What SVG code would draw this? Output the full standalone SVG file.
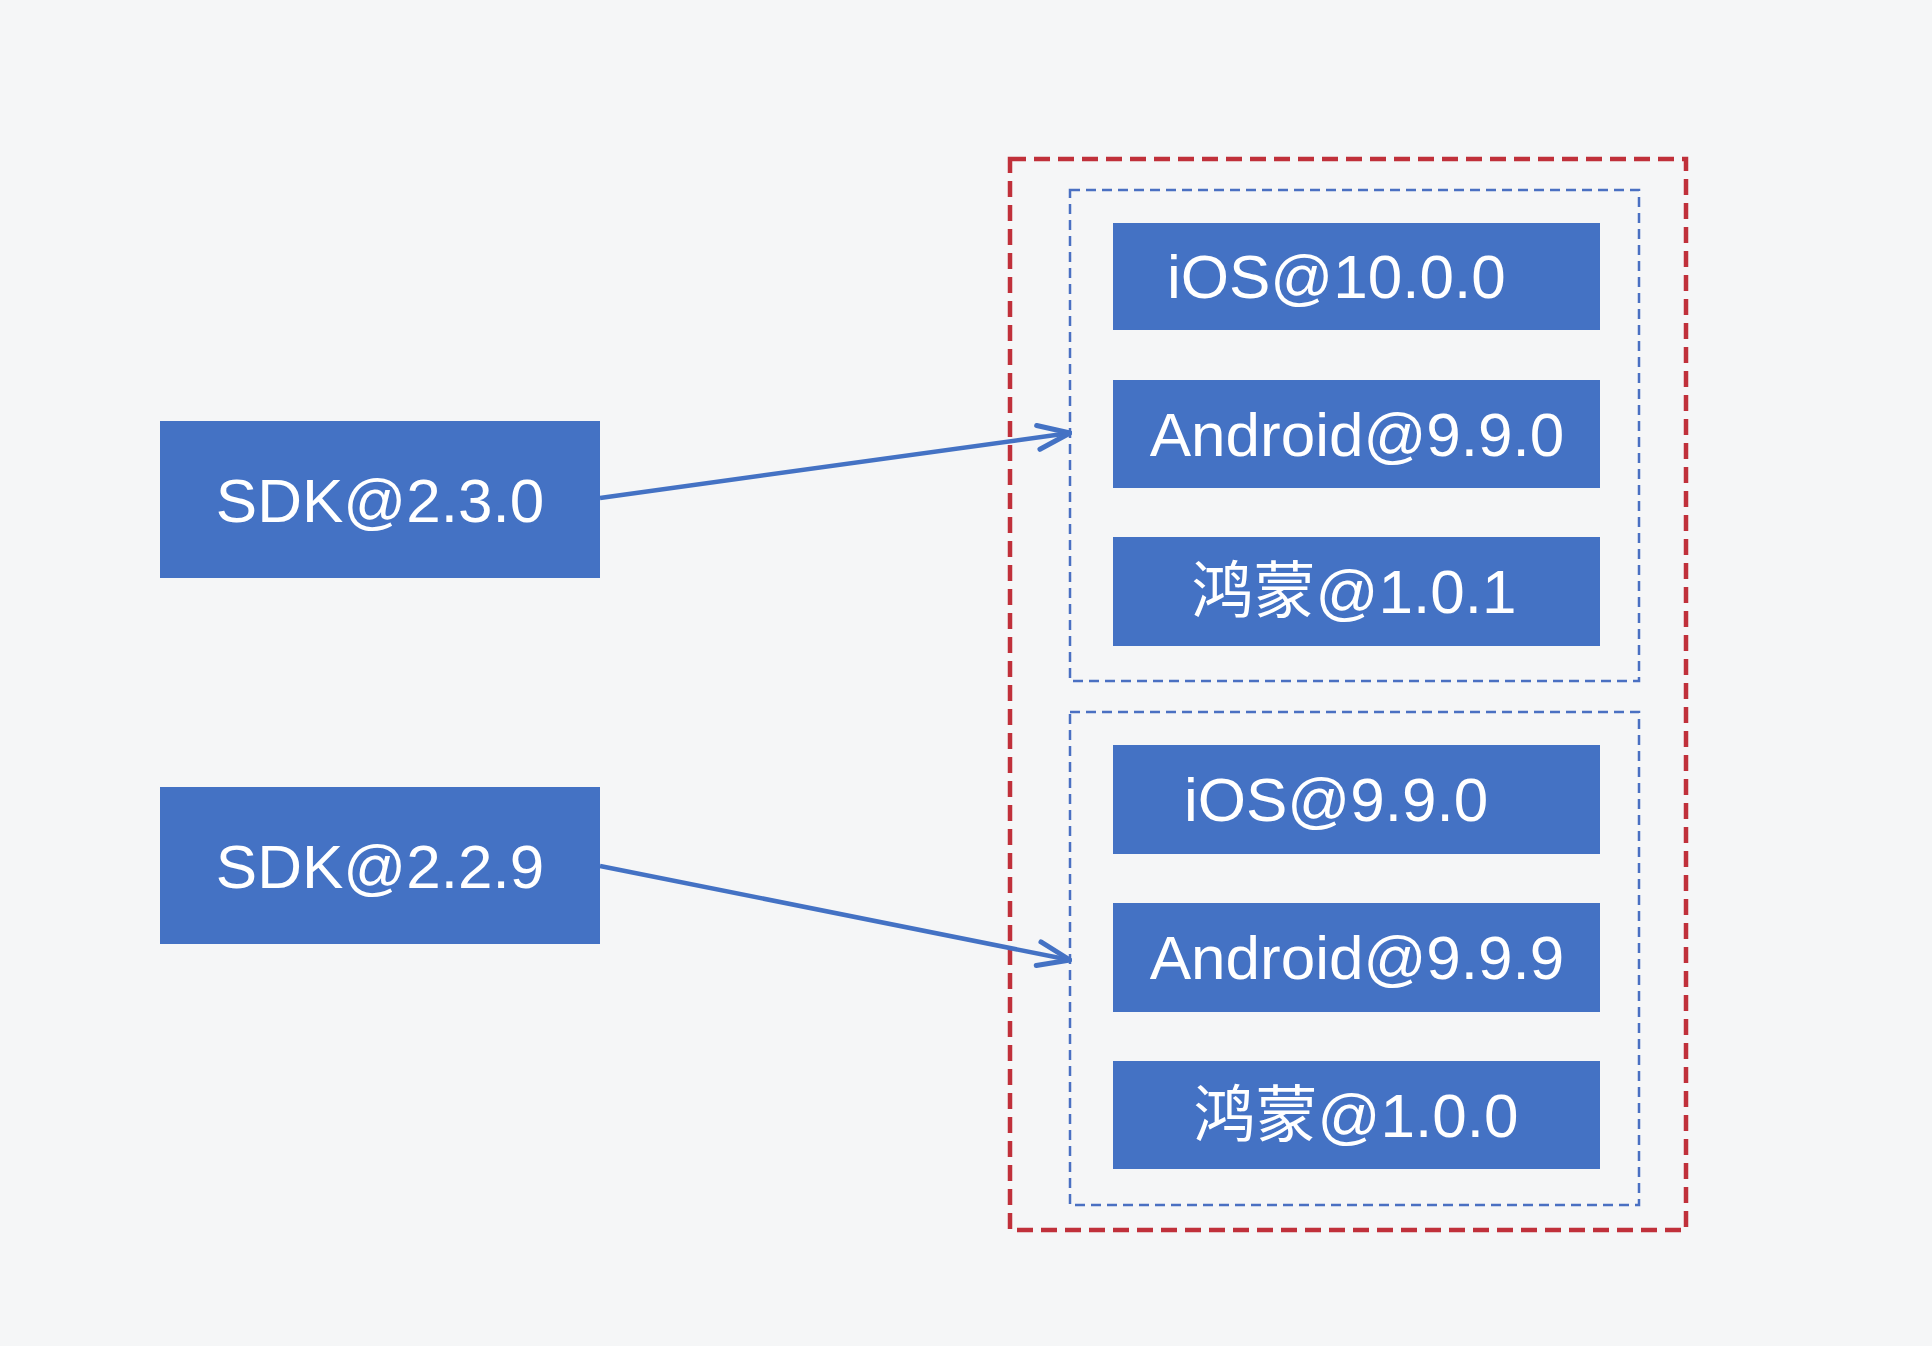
<svg xmlns="http://www.w3.org/2000/svg" width="1932" height="1346" viewBox="0 0 1932 1346">
<style>
.bg{fill:#F5F6F7}
.box{fill:#4472C4}
.lbl{fill:#FFFFFF;font-family:"Liberation Sans","Noto Sans CJK SC",sans-serif;font-size:62px}
.red{fill:none;stroke:#C0303A;stroke-width:4.5;stroke-dasharray:16 8}
.grp{fill:none;stroke:#4A70C2;stroke-width:2.5;stroke-dasharray:10 6}
.edge{fill:none;stroke:#4472C4;stroke-width:4.5}
</style>
<defs>
<marker id="arr" viewBox="0 0 40 40" refX="38" refY="20" markerWidth="40" markerHeight="40" markerUnits="userSpaceOnUse" orient="auto">
<path d="M6,8 L38,20 L6,32" fill="none" stroke="#4472C4" stroke-width="5" stroke-linecap="round" stroke-linejoin="round"/>
</marker>
</defs>
<rect class="bg" x="0" y="0" width="1932" height="1346"/>
<g id="outer-frame"><rect class="red" x="1010" y="159" width="676" height="1071"/></g>
<g id="group-1"><rect class="grp" x="1070" y="190" width="569" height="491"/></g>
<g id="group-2"><rect class="grp" x="1070" y="712" width="569" height="493"/></g>
<g id="sdk230"><rect class="box" x="160" y="421" width="440" height="157"/><text class="lbl" x="380" y="522" text-anchor="middle">SDK@2.3.0</text></g>
<g id="sdk229"><rect class="box" x="160" y="787" width="440" height="157"/><text class="lbl" x="380" y="888" text-anchor="middle">SDK@2.2.9</text></g>
<g id="ios1000"><rect class="box" x="1113" y="223" width="487" height="107"/><text class="lbl" x="1167" y="298">iOS@10.0.0</text></g>
<g id="android990"><rect class="box" x="1113" y="380" width="487" height="108"/><text class="lbl" x="1357" y="456" text-anchor="middle">Android@9.9.0</text></g>
<g id="hm101"><rect class="box" x="1113" y="537" width="487" height="109"/><text class="lbl" x="1354" y="613" text-anchor="middle">鸿蒙@1.0.1</text></g>
<g id="ios990"><rect class="box" x="1113" y="745" width="487" height="109"/><text class="lbl" x="1184" y="821">iOS@9.9.0</text></g>
<g id="android999"><rect class="box" x="1113" y="903" width="487" height="109"/><text class="lbl" x="1357" y="979" text-anchor="middle">Android@9.9.9</text></g>
<g id="hm100"><rect class="box" x="1113" y="1061" width="487" height="108"/><text class="lbl" x="1356" y="1137" text-anchor="middle">鸿蒙@1.0.0</text></g>
<g id="connectors">
<line class="edge" x1="600" y1="498" x2="1070" y2="433" marker-end="url(#arr)"/>
<line class="edge" x1="600" y1="866" x2="1070" y2="960" marker-end="url(#arr)"/>
</g>
</svg>
